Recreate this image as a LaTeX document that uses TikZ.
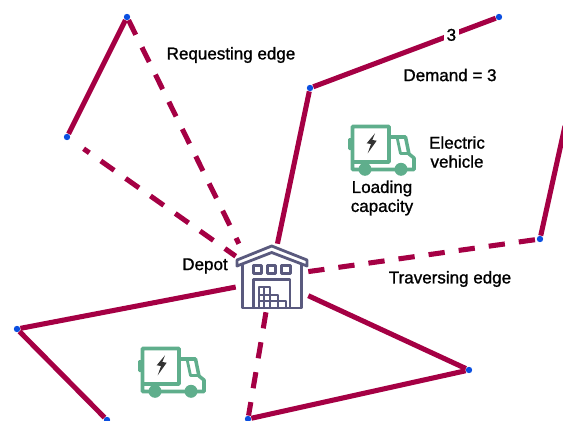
\documentclass[tikz,border=0pt]{standalone}
\usepackage{fontspec}
\setmainfont{Liberation Sans}
\newfontfamily\lblfont[FakeBold=1.2]{Liberation Sans}
\definecolor{edgered}{HTML}{A50044}
\definecolor{stopblue}{HTML}{0B4FE0}
\definecolor{depotgray}{HTML}{5A5A7E}
\definecolor{truckgreen}{HTML}{5FAE8C}
\definecolor{boltgray}{HTML}{333333}
\tikzset{
  stop/.style={circle,fill=stopblue,inner sep=0pt,minimum size=1.6mm},
  servededge/.style={edgered,line width=3.6pt},
  reqedge/.style={edgered,line width=3.6pt,dash pattern=on 11.6pt off 10pt},
  lbl/.style={font=\fontsize{12.1}{13.5}\selectfont\lblfont,text=black,align=center,inner sep=0pt},
  depotline/.style={depotgray,line width=2pt,line join=round},
  crateline/.style={depotgray,line width=1.5pt,line join=round},
  truckline/.style={truckgreen,line width=2.5pt,line join=round},
  evtruck/.pic={
    \draw [truckline] (390,137)--(405.5,137)--(409,154)--(414,158)--(414,169.5)--(352.5,169.5)--(352.5,126.5)--(389,126.5)--(389,162)--(352.5,162);
    \draw [truckline,line width=2pt] (397,137)--(400.5,153.5)--(409,153.5);
    \fill [truckgreen,rounded corners=1pt] (348,138) rectangle (352,150);
    \fill [truckgreen] (365,169.3) circle (6.5);
    \fill [truckgreen] (401,169.3) circle (6.5);
    \fill [boltgray] (375,133.3)--(366.7,143.3)--(371,144)--(367.7,153.3)--(376.7,140.7)--(372.3,140)--cycle;
  }
}
\begin{document}
\begin{tikzpicture}[x=0.25mm,y=-0.25mm]
\useasboundingbox (0,0) rectangle (563,421);
\clip (0,0) rectangle (563,421);
\node [minimum width=1.8cm,minimum height=1.7cm,inner sep=0pt] (depot) at (272,278) {};
\node [stop] (reqtop) at (127,17) {};
\node [stop] (reqleft) at (67,137) {};
\node [stop] (bend) at (310,88) {};
\node [stop] (toptip) at (499,17) {};
\node [stop] (rightstop) at (540,239) {};
\node [stop] (lowright) at (469,370) {};
\node [stop] (lowmid) at (248,419) {};
\node [stop] (lowleft) at (107,420) {};
\node [stop] (farleft) at (17,329) {};
\coordinate (offpage) at (565,126);
\draw [servededge] (reqleft)--(reqtop);
\draw [reqedge] (reqtop)--(depot.134);
\draw [reqedge,dash phase=6.6pt,shorten <=12pt] (reqleft)--(depot.149);
\draw [servededge] (depot.81)--(bend);
\draw [servededge] (bend)-- node [pos=.757,fill=white,lbl,inner sep=2pt] (demandnum) {3}(toptip);
\draw [reqedge] (depot.10)--(rightstop);
\draw [servededge] (rightstop)--(offpage);
\draw [servededge] (depot.-26)--(lowright);
\draw [servededge] (lowright)--(lowmid);
\draw [reqedge] (depot.260)--(lowmid);
\draw [servededge] (lowleft)--(farleft);
\draw [servededge] (farleft)--(depot.194);
\draw [depotline] (237,260)--(271.7,246)--(307,260)--(307,266)--(271.7,252.5)--(237,266)--cycle;
\draw [depotline] (242.3,264)--(242.3,308)--(301.7,308)--(301.7,264);
\foreach \xa in {253.3,267.3,281.7}
  \draw [depotline] (\xa,265.7)--++(8.4,0)--++(0,8)--++(-8.4,0)--cycle;
\draw [depotline] (253.3,308)--(253.3,279.7)--(290,279.7)--(290,308);
\draw [crateline] (259,308)--(259,287)--(270,287)--(270,308);
\draw [crateline] (259,294.7)--(278.3,294.7)--(278.3,308);
\draw [crateline] (259,301.3)--(285.7,301.3)--(285.7,308);
\draw [crateline] (264.3,287)--(264.3,308);
\pic at (0,0) {evtruck};
\pic at (-210,222) {evtruck};
\node [lbl] (reqlabel) at (231,55) {Requesting edge};
\node [lbl] (demandlabel) at (450,75) {Demand = 3};
\node [lbl] (evlabel) at (457,152) {Electric\\vehicle};
\node [lbl] (caplabel) at (382,198) {Loading\\capacity};
\node [lbl] (depotlabel) at (205,266) {Depot};
\node [lbl] (travlabel) at (450,279) {Traversing edge};
\end{tikzpicture}
\end{document}
